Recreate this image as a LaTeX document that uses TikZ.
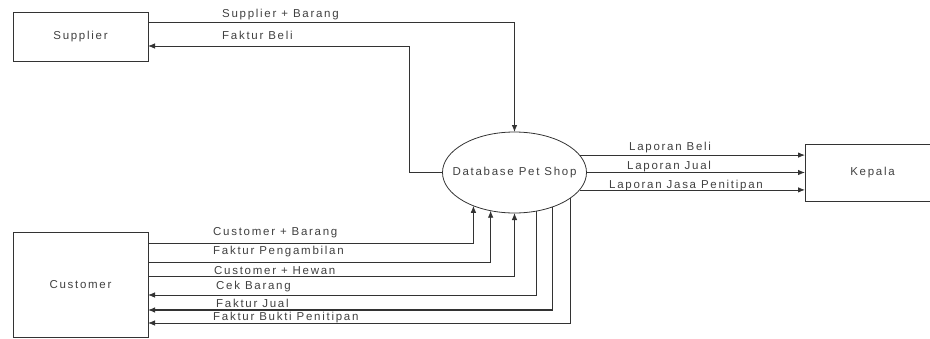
\documentclass[tikz,border=0pt]{standalone}
\usepackage{fontspec}
\setmainfont{Liberation Sans}
\newfontfamily\lblfont[LetterSpace=15]{Liberation Sans}
\usetikzlibrary{arrows.meta,shapes.geometric}
\tikzset{
  txt/.style={font=\lblfont\fontsize{11.5}{13}\selectfont, text=black!75},
  entity/.style={draw=black!80, line width=0.9pt, minimum width=135pt, inner sep=0pt, outer sep=0pt, txt},
  proc/.style={ellipse, draw=black!80, line width=0.8pt, minimum width=144pt, minimum height=81pt, inner sep=0pt, outer sep=0pt, txt},
  flow/.style={draw=black!80, line width=0.8pt, -{Latex[length=7pt,width=5.5pt]}},
  boldflow/.style={flow, line width=1.1pt},
  lbl/.style={anchor=base west, inner sep=0pt, txt},
}
\begin{document}
\begin{tikzpicture}[x=1pt,y=-1pt]
\useasboundingbox (0,0) rectangle (930,338);
% nodes
\node[entity, minimum height=49pt] (sup) at (80.5,36.5) {Supplier};
\node[entity, minimum height=105pt] (cus) at (80.5,284.5) {Customer};
\node[entity, minimum height=57pt] (kep) at (872.5,172.5) {Kepala};
\node[proc] (db) at (514.5,172.5) {\makebox[0pt]{Database Pet Shop}};
% y levels
\coordinate (ySB) at (0,22);
\coordinate (yFB) at (409,46);
\coordinate (c1) at (0,243);
\coordinate (c2) at (0,262);
\coordinate (c3) at (0,276);
\coordinate (c4) at (0,295);
\coordinate (c5) at (0,310);
\coordinate (c6) at (0,323);
% supplier flows
\draw[flow] (sup.east |- ySB) -| (db.north);
\draw[flow] (db.west) -| (yFB) -- (yFB -| sup.east);
% customer flows
\draw[flow] (cus.east |- c1) -| (db.-141.9);
\draw[flow] (cus.east |- c2) -| (db.-122.1);
\draw[flow] (cus.east |- c3) -| (db.south);
\draw[flow] (db.-60.3) |- (cus.east |- c4);
\draw[boldflow] (db.-42.2) |- (cus.east |- c5);
\draw[flow] (db.-25.4) |- (cus.east |- c6);
% kepala flows
\draw[flow] (db.15.6) -- (db.15.6 -| kep.west);
\draw[flow] (db.east) -- (kep.west);
\draw[flow] (db.-15.1) -- (db.-15.1 -| kep.west);
% labels
\node[lbl] (lSB) at (222,17.1) {Supplier + Barang};
\node[lbl] (lFB) at (222,39.1) {Faktur Beli};
\node[lbl] (lCB) at (213,235.1) {Customer + Barang};
\node[lbl] (lFP) at (213,254.1) {Faktur Pengambilan};
\node[lbl] (lCH) at (214,274.1) {Customer + Hewan};
\node[lbl] (lCk) at (216,289.1) {Cek Barang};
\node[lbl] (lFJ) at (216,307.1) {Faktur Jual};
\node[lbl] (lFBP) at (213,320.6) {Faktur Bukti Penitipan};
\node[lbl] (lLB) at (629,150.1) {Laporan Beli};
\node[lbl] (lLJ) at (627,169.1) {Laporan Jual};
\node[lbl] (lLJP) at (609,188.1) {Laporan Jasa Penitipan};
\end{tikzpicture}
\end{document}
